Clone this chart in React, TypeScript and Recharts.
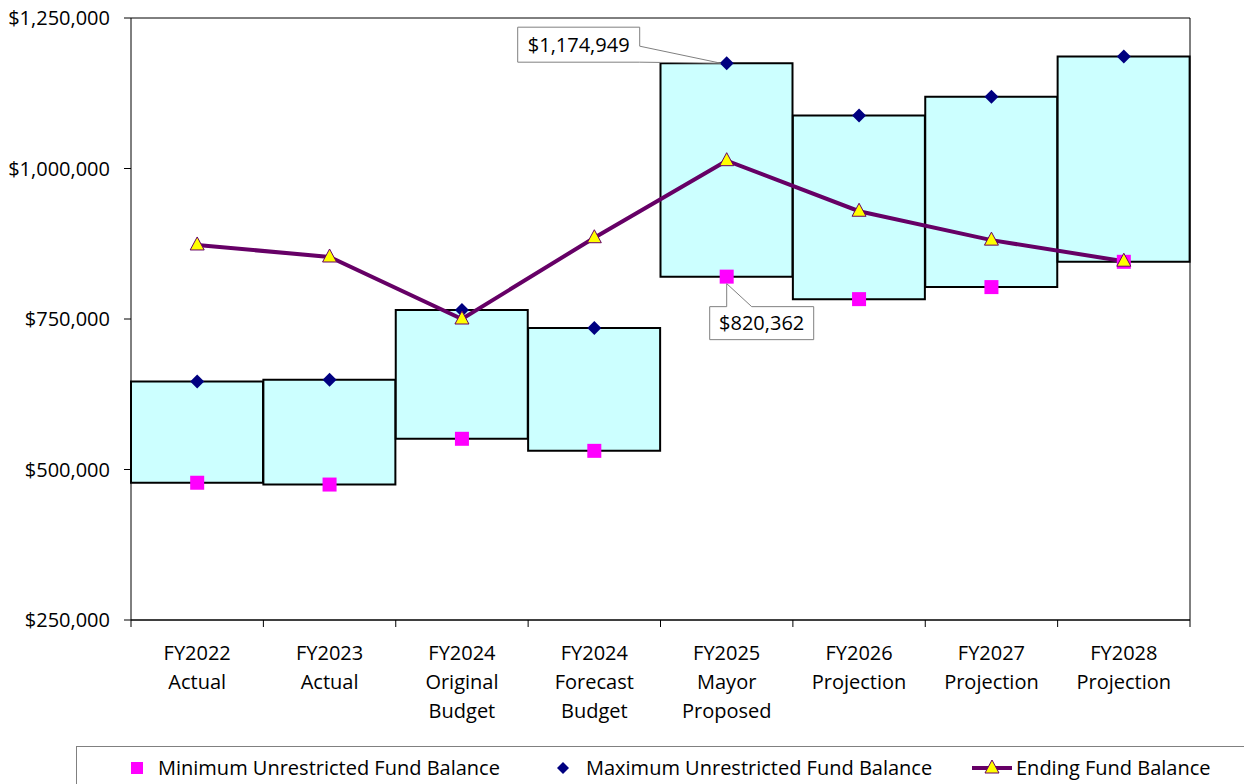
import { ComposedChart, Bar, Line, XAxis, YAxis, CartesianGrid, LabelList } from "recharts"

const categories = [
  "FY2022|Actual",
  "FY2023|Actual",
  "FY2024|Original|Budget",
  "FY2024|Forecast|Budget",
  "FY2025|Mayor|Proposed",
  "FY2026|Projection",
  "FY2027|Projection",
  "FY2028|Projection",
]
const minBalance = [478000, 475000, 551000, 531000, 820362, 783000, 803000, 845000]
const maxBalance = [646000, 649000, 765000, 735000, 1174949, 1088000, 1119000, 1186000]
const endingBalance = [873000, 853000, 750000, 885000, 1013000, 929000, 881000, 846000]
const yTicks = [250000, 500000, 750000, 1000000, 1250000]

const data = categories.map((name, i) => ({
  name,
  range: [minBalance[i], maxBalance[i]],
  min: minBalance[i],
  max: maxBalance[i],
  ending: endingBalance[i],
}))

const FONT = "'Open Sans', 'Noto Sans', sans-serif"
const FS = 20
const PLOT_LEFT = 131
const PLOT_RIGHT = 1190
const BAND = (PLOT_RIGHT - PLOT_LEFT) / categories.length

const money = (v: number) => `$${v.toLocaleString("en-US")}`

function CategoryTick(props: any) {
  const { x, y, payload, index } = props
  const lines = String(payload.value).split("|")
  const left = x - BAND / 2
  return (
    <g>
      <line x1={left} x2={left} y1={y} y2={y + 7} stroke="#000" />
      {index === categories.length - 1 && (
        <line x1={left + BAND} x2={left + BAND} y1={y} y2={y + 7} stroke="#000" />
      )}
      <text x={x} y={y + 40} textAnchor="middle" fontSize={FS} fill="#000">
        {lines.map((l, i) => (
          <tspan key={i} x={x} dy={i === 0 ? 0 : 29}>
            {l}
          </tspan>
        ))}
      </text>
    </g>
  )
}

function SquareDot(props: any) {
  const { cx, cy } = props
  return <rect x={cx - 7} y={cy - 7} width={14} height={14} fill="#FF00FF" />
}

function DiamondDot(props: any) {
  const { cx, cy } = props
  return <polygon points={`${cx},${cy - 7} ${cx + 7},${cy} ${cx},${cy + 7} ${cx - 7},${cy}`} fill="#000080" />
}

function TriangleDot(props: any) {
  const { cx, cy } = props
  return (
    <polygon
      points={`${cx},${cy - 8} ${cx + 7},${cy + 5} ${cx - 7},${cy + 5}`}
      fill="#FFFF00"
      stroke="#660066"
      strokeWidth={1}
    />
  )
}

function MaxCallout(props: any) {
  const { x, y, value } = props
  if (value !== maxBalance[4]) return null
  const left = x - 209
  const right = x - 87
  const top = y - 36
  const bottom = y - 1
  return (
    <g>
      <path
        d={`M${left},${top} H${right} V${top + 19} L${x - 6},${y} L${right},${bottom} H${left} Z`}
        fill="#fff"
        stroke="#808080"
        strokeWidth={1}
      />
      <text x={(left + right) / 2} y={(top + bottom) / 2 + 7} textAnchor="middle" fontSize={FS} fill="#000">
        {money(value)}
      </text>
    </g>
  )
}

function MinCallout(props: any) {
  const { x, y, value } = props
  if (value !== minBalance[4]) return null
  const left = x - 17
  const right = x + 87
  const top = y + 30
  const bottom = y + 63
  return (
    <g>
      <path
        d={`M${left},${top} H${x} L${x},${y + 7} L${x + 25},${top} H${right} V${bottom} H${left} Z`}
        fill="#fff"
        stroke="#808080"
        strokeWidth={1}
      />
      <text x={(left + right) / 2} y={(top + bottom) / 2 + 7} textAnchor="middle" fontSize={FS} fill="#000">
        {money(value)}
      </text>
    </g>
  )
}

function ChartLegend() {
  const text: any = { position: "absolute", top: 8, fontSize: FS, lineHeight: "26px", color: "#000", whiteSpace: "nowrap" }
  return (
    <div
      style={{
        position: "absolute",
        left: 76,
        top: 746,
        width: 1200,
        height: 50,
        border: "1px solid #808080",
        background: "#fff",
      }}
    >
      <div style={{ position: "absolute", left: 54, top: 15, width: 12, height: 12, background: "#FF00FF" }} />
      <span style={{ ...text, left: 81 }}>Minimum Unrestricted Fund Balance</span>
      <svg style={{ position: "absolute", left: 478, top: 13 }} width={16} height={16}>
        <polygon points="8,2 14,8 8,14 2,8" fill="#000080" />
      </svg>
      <span style={{ ...text, left: 509 }}>Maximum Unrestricted Fund Balance</span>
      <svg style={{ position: "absolute", left: 894, top: 9 }} width={42} height={24}>
        <line x1={1} x2={41} y1={12} y2={12} stroke="#660066" strokeWidth={4} />
        <polygon points="21,4 28,17 14,17" fill="#FFFF00" stroke="#660066" strokeWidth={1} />
      </svg>
      <span style={{ ...text, left: 939 }}>Ending Fund Balance</span>
    </div>
  )
}

export default function App() {
  return (
    <div
      style={{
        position: "absolute",
        left: 0,
        top: 0,
        width: 1244,
        height: 784,
        overflow: "hidden",
        background: "#fff",
        fontFamily: FONT,
      }}
    >
      <ComposedChart
        width={1244}
        height={784}
        data={data}
        barCategoryGap={0}
        margin={{ top: 18, right: 0, left: 0, bottom: 54 }}
      >
        <CartesianGrid horizontal vertical={false} stroke="#000" strokeOpacity={1} />
        <XAxis
          dataKey="name"
          interval={0}
          height={110}
          axisLine={{ stroke: "#000" }}
          tickLine={false}
          tickSize={0}
          tickMargin={0}
          tick={<CategoryTick />}
        />
        <YAxis
          yAxisId="left"
          width={131}
          domain={[250000, 1250000]}
          ticks={yTicks}
          allowDataOverflow
          axisLine={{ stroke: "#000" }}
          tickLine={{ stroke: "#000" }}
          tickSize={7}
          tickMargin={14}
          tick={{ fontSize: FS, fill: "#000" }}
          tickFormatter={money}
        />
        <YAxis
          yAxisId="right"
          orientation="right"
          width={54}
          domain={[250000, 1250000]}
          ticks={yTicks}
          axisLine={{ stroke: "#000" }}
          tick={false}
          tickLine={false}
        />
        <Bar
          yAxisId="left"
          dataKey="range"
          fill="#CCFFFF"
          stroke="#000"
          strokeWidth={2}
          isAnimationActive={false}
        />
        <Line
          yAxisId="left"
          dataKey="min"
          stroke="none"
          dot={<SquareDot />}
          activeDot={false}
          isAnimationActive={false}
        >
          <LabelList dataKey="min" content={<MinCallout />} />
        </Line>
        <Line
          yAxisId="left"
          dataKey="max"
          stroke="none"
          dot={<DiamondDot />}
          activeDot={false}
          isAnimationActive={false}
        >
          <LabelList dataKey="max" content={<MaxCallout />} />
        </Line>
        <Line
          yAxisId="left"
          dataKey="ending"
          stroke="#660066"
          strokeWidth={4}
          dot={<TriangleDot />}
          activeDot={false}
          isAnimationActive={false}
        />
      </ComposedChart>
      <ChartLegend />
    </div>
  )
}
